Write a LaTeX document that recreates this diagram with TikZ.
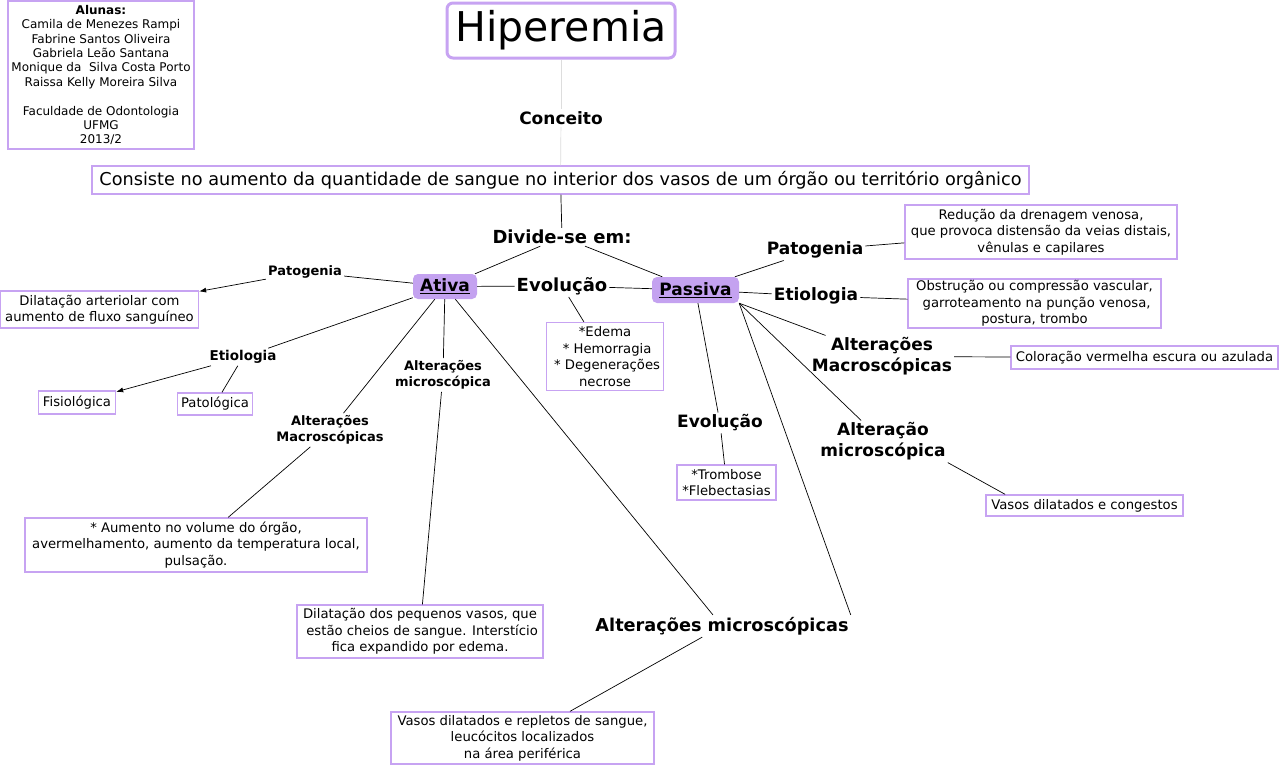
\documentclass[tikz,border=0pt]{standalone}
\usepackage{fontspec}
\setmainfont{DejaVu Sans}
\usetikzlibrary{arrows.meta}
\definecolor{lav}{HTML}{C7A3F2}
\definecolor{lavfill}{HTML}{C4A2F0}
\definecolor{pale}{HTML}{DDDDDD}
\begin{document}
\begin{tikzpicture}[x=1pt,y=-1pt,
  bx/.style 2 args={draw=lav,line width=1.3pt,align=center,inner sep=0pt,
     minimum width=#1,minimum height=#2,font=\fontsize{13.2}{16.5}\selectfont},
  lb/.style={font=\bfseries\fontsize{17}{21}\selectfont,align=center,inner sep=2pt},
  lbs/.style={font=\bfseries\fontsize{13}{16.5}\selectfont,align=center,inner sep=2pt},
  pill/.style 2 args={fill=lavfill,rounded corners=5pt,inner sep=0pt,minimum width=#1,
     minimum height=#2,font=\bfseries\fontsize{17}{20}\selectfont},
  con/.style={draw=black,line width=0.7pt},
  arr/.style={con,-{Latex[length=7pt,width=5pt]}}]
\useasboundingbox (0,0) rectangle (1280,766);
\fill[white] (0,0) rectangle (1280,766);

% boxes
\node[bx={186pt}{148pt},font=\fontsize{12}{14.4}\selectfont] (alunas) at (101,75)
  {\textbf{Alunas:}\\Camila de Menezes Rampi\\Fabrine Santos Oliveira\\Gabriela Leão Santana\\Monique da\ \ Silva Costa Porto\\Raissa Kelly Moreira Silva\\[14.4pt]Faculdade de Odontologia\\UFMG\\2013/2};
\node[draw=lav,line width=3pt,rounded corners=6pt,minimum width=228pt,minimum height=55pt,inner sep=0pt,
  font=\fontsize{41}{48}\selectfont] (hip) at (561,30.5) {Hiperemia};
\node[lb] (conceito) at (561,118) {Conceito};
\node[bx={937pt}{28pt},font=\fontsize{17.7}{21}\selectfont] (cons) at (560.5,180)
  {Consiste no aumento da quantidade de sangue no interior dos vasos de um órgão ou território orgânico};
\node[lb,font=\bfseries\fontsize{18}{22}\selectfont] (divide) at (562,237) {Divide-se em:};
\node[pill={64pt}{25pt}] (ativa) at (445,286.5) {\underline{Ativa}};
\node[pill={87pt}{26pt}] (passiva) at (695.5,290) {\underline{Passiva}};
\node[lb,font=\bfseries\fontsize{18}{22}\selectfont] (evoC) at (562,286) {Evolução};
\node[bx={117pt}{68pt}] (edema) at (605,356.5) {*Edema\\\ * Hemorragia\\\ * Degenerações\\necrose};

% Ativa side
\node[lbs] (patA) at (305,272) {Patogenia};
\node[bx={198pt}{37pt}] (dilA) at (99.5,309.5) {Dilatação arteriolar com\\aumento de fluxo sanguíneo};
\node[lbs,font=\bfseries\fontsize{13.5}{17}\selectfont] (etioA) at (243,357) {Etiologia};
\node[bx={77pt}{23pt}] (fisio) at (77,402.5) {Fisiológica};
\node[bx={75pt}{22pt}] (pato) at (215,404) {Patológica};
\node[lbs] (macroA) at (330,430) {Alterações\\Macroscópicas};
\node[bx={342pt}{54pt}] (macroBox) at (196,545) {* Aumento no volume do órgão,\\avermelhamento, aumento da temperatura local,\\pulsação.};
\node[lbs] (microA) at (443,375) {Alterações\\microscópica};
\node[bx={246pt}{53pt}] (microBox) at (420,631.5) {Dilatação dos pequenos vasos, que\\\ estão cheios de sangue. Interstício\\fica expandido por edema.};
\node[lb,font=\bfseries\fontsize{17.7}{22}\selectfont] (microBig) at (722,626) {Alterações microscópicas};
\node[bx={263pt}{52pt}] (vasosR) at (522.5,738) {Vasos dilatados e repletos de sangue,\\leucócitos localizados\\na área periférica};

% Passiva side
\node[lb] (patP) at (815,250) {Patogenia};
\node[bx={272pt}{54pt}] (patBox) at (1041,232) {Redução da drenagem venosa,\\que provoca distensão da veias distais,\\vênulas e capilares};
\node[lb] (etioP) at (816,296) {Etiologia};
\node[bx={253pt}{49pt}] (etioBox) at (1034.5,303.5) {Obstrução ou compressão vascular,\\\ garroteamento na punção venosa,\\postura, trombo};
\node[lb] (macroP) at (882,356.5) {Alterações\\Macroscópicas};
\node[bx={267pt}{23pt}] (colBox) at (1144.5,357.5) {Coloração vermelha escura ou azulada};
\node[lb] (altmicP) at (883,441.5) {Alteração\\microscópica};
\node[bx={197pt}{21pt}] (vc) at (1084.5,505.5) {Vasos dilatados e congestos};
\node[lb] (evoP) at (720,423) {Evolução};
\node[bx={99pt}{35pt}] (tromb) at (726.5,482.5) {*Trombose\\*Flebectasias};

% connectors
\draw[pale,line width=0.7pt] (hip) -- (conceito);
\draw[pale,line width=0.7pt] (conceito) -- (cons);
\draw[con] (cons) -- (divide);
\draw[con] (divide) -- (ativa);
\draw[con] (divide) -- (passiva);
\draw[con] (ativa) -- (evoC);
\draw[con] (evoC) -- (passiva);
\draw[con] (evoC) -- (edema);
\draw[con] (ativa) -- (patA);
\draw[arr] (patA) -- (dilA);
\draw[con] (ativa) -- (etioA);
\draw[arr] (etioA) -- (fisio);
\draw[con] (etioA) -- (pato);
\draw[con] (ativa) -- (macroA);
\draw[con] (macroA) -- (macroBox);
\draw[con] (ativa) -- (microA);
\draw[con] (microA) -- (microBox);
\draw[con] (ativa) -- (microBig);
\draw[con] (microBig) -- (vasosR);
\draw[con] (passiva.south east) -- (microBig.north east);
\draw[con] (passiva) -- (evoP);
\draw[con] (evoP) -- (tromb);
\draw[con] (passiva.south east) -- (altmicP);
\draw[con] (altmicP.south east) -- (vc.172);
\draw[con] (passiva.south east) -- (macroP);
\draw[con] (macroP) -- (colBox);
\draw[con] (passiva) -- (etioP);
\draw[con] (etioP) -- (etioBox);
\draw[con] (passiva) -- (patP);
\draw[con] (patP) -- (patBox);
\end{tikzpicture}
\end{document}
